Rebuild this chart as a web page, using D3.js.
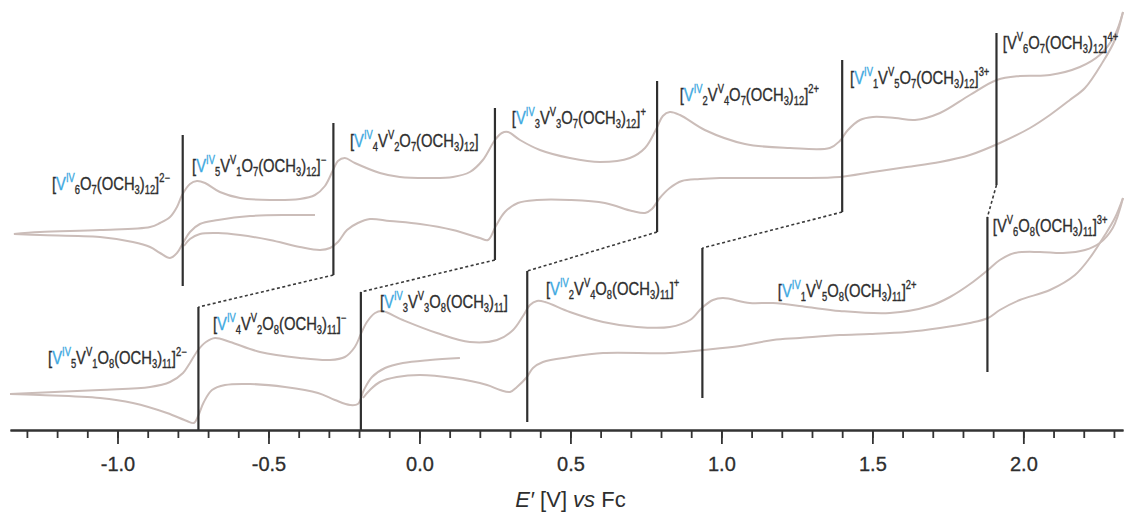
<!DOCTYPE html>
<html>
<head>
<meta charset="utf-8">
<script src="https://cdn.jsdelivr.net/npm/d3@7"></script>
<style>
  body { margin: 0; background: #fff; }
  svg { display: block; }
</style>
</head>
<body>
<div id="chart"></div>
<script>
// potentials in V vs Fc, currents in arbitrary units (traces offset vertically)

// upper CV: [V6O7(OCH3)12]2- series
const topStart = [[-0.346,215],[-0.429,215],[-0.561,214],[-0.667,210],[-0.727,206],[-0.760,198],[-0.783,187],[-0.803,177],[-0.826,172],[-0.859,177],[-0.892,183],[-0.949,188],[-1.058,193],[-1.257,195],[-1.343,196]];
const topForward = [[-1.343,196],[-1.257,198],[-1.058,200],[-0.892,203],[-0.859,207],[-0.826,213],[-0.803,223],[-0.786,235],[-0.760,246],[-0.737,249],[-0.710,247],[-0.661,238],[-0.594,232],[-0.495,230],[-0.396,231],[-0.346,235],[-0.313,244],[-0.286,260],[-0.270,269],[-0.247,272],[-0.214,267],[-0.131,257],[-0.065,253],[0.035,252],[0.111,253],[0.167,258],[0.210,270],[0.250,290],[0.273,297],[0.293,298],[0.333,290],[0.399,280],[0.498,272],[0.598,268],[0.697,272],[0.747,282],[0.786,302],[0.806,314],[0.829,318],[0.863,315],[0.945,300],[1.078,286],[1.227,282],[1.359,282],[1.392,289],[1.419,300],[1.459,310],[1.502,313],[1.575,312],[1.641,310],[1.724,317],[1.823,335],[1.912,350],[1.988,354],[2.088,355],[2.187,363],[2.253,375],[2.303,395],[2.330,418]];
const topReverse = [[2.330,418],[2.303,390],[2.263,368],[2.204,342],[2.154,330],[2.088,315],[2.022,302],[1.922,287],[1.823,275],[1.724,268],[1.614,263],[1.502,258],[1.392,253],[1.260,252],[1.128,252],[0.995,252],[0.929,251],[0.869,249],[0.829,242],[0.796,232],[0.770,221],[0.747,217],[0.704,219],[0.614,227],[0.498,230],[0.389,230],[0.326,227],[0.283,218],[0.253,204],[0.227,190],[0.200,192],[0.111,200],[0.002,206],[-0.098,209],[-0.164,211],[-0.204,207],[-0.240,200],[-0.270,188],[-0.296,182],[-0.329,180],[-0.396,183],[-0.495,190],[-0.594,195],[-0.667,197],[-0.727,196],[-0.760,191],[-0.780,184]];

// lower CV: [V6O8(OCH3)11] series
const botStart = [[0.134,72],[0.035,70],[-0.055,67],[-0.114,62],[-0.157,53],[-0.184,40],[-0.204,26],[-0.230,25],[-0.280,30],[-0.336,37],[-0.445,43],[-0.561,46],[-0.644,45],[-0.687,40],[-0.714,28],[-0.733,14],[-0.747,7],[-0.770,9],[-0.836,17],[-0.949,27],[-1.058,32],[-1.257,35],[-1.356,36]];
const botForward = [[-1.356,36],[-1.058,40],[-0.892,43],[-0.826,48],[-0.783,57],[-0.760,67],[-0.733,80],[-0.707,88],[-0.677,92],[-0.627,88],[-0.528,78],[-0.396,72],[-0.296,70],[-0.247,73],[-0.214,83],[-0.194,96],[-0.174,108],[-0.147,117],[-0.124,119],[-0.055,110],[0.058,97],[0.167,88],[0.257,90],[0.310,100],[0.343,114],[0.366,125],[0.389,129],[0.416,128],[0.498,118],[0.608,108],[0.720,103],[0.829,103],[0.896,110],[0.935,122],[0.972,130],[1.005,132],[1.094,127],[1.171,127],[1.283,123],[1.392,119],[1.558,117],[1.690,124],[1.757,133],[1.833,148],[1.883,160],[1.922,170],[1.971,177],[2.055,178],[2.131,177],[2.204,180],[2.253,187],[2.296,202],[2.330,232]];
const botReverse = [[2.330,232],[2.303,212],[2.270,195],[2.220,172],[2.171,155],[2.088,140],[1.988,130],[1.922,120],[1.883,112],[1.823,107],[1.724,102],[1.614,98],[1.492,96],[1.392,95],[1.260,92],[1.171,90],[1.061,84],[0.939,80],[0.829,77],[0.608,77],[0.498,73],[0.409,68],[0.376,62],[0.356,53],[0.323,43],[0.300,38],[0.267,40],[0.224,45],[0.111,52],[0.002,55],[-0.075,53],[-0.131,48],[-0.164,40],[-0.187,32]];

// half-wave potentials and the current span each marker covers
const topHalfWave = [-0.784, -0.285, 0.250, 0.787, 1.400, 1.911];
const topMarkerSpan = [[144,295],[155,307],[170,322],[198,349],[218,370],[245,397]];
const botHalfWave = [-0.732, -0.194, 0.357, 0.937, 1.881];
const botMarkerSpan = [[0,123],[0,138],[8,159],[32,182],[58,213]];

// species: [n V(IV), n V(V), charge]
const topSpecies = [[6,0,"2\u2212"],[5,1,"\u2212"],[4,2,""],[3,3,"+"],[2,4,"2+"],[1,5,"3+"],[0,6,"4+"]];
const botSpecies = [[5,1,"2\u2212"],[4,2,"\u2212"],[3,3,""],[2,4,"+"],[1,5,"2+"],[0,6,"3+"]];
const topLabelAt = [[-1.217,240],[-0.753,258],[-0.230,283],[0.306,306],[0.862,329],[1.426,346],[1.932,381]];
const botLabelAt = [[-1.230,66],[-0.684,100],[-0.131,122],[0.419,135],[1.187,133],[1.899,198]];

const majorTicks = [-1.0, -0.5, 0.0, 0.5, 1.0, 1.5, 2.0];
const tickLabels = ["-1.0", "-0.5", "0.0", "0.5", "1.0", "1.5", "2.0"];
const minorTicks = d3.range(-13, 24).map(d => d / 10);

////////////// setup //////////////
const width = 1124, height = 512;
const x = d3.scaleLinear().domain([-1.356, 2.33]).range([10, 1123]);
const y = d3.scaleLinear().domain([0, 430]).range([430, 0]);

const svg = d3.select("#chart").append("svg")
  .attr("width", width)
  .attr("height", height)
  .style("font-family", "'Liberation Sans', Arial, sans-serif");

svg.append("rect").attr("width", width).attr("height", height).attr("fill", "#fff");

const line = d3.line()
  .x(d => x(d[0]))
  .y(d => y(d[1]))
  .curve(d3.curveCatmullRom.alpha(0.5));

//draw the CV traces
const traces = [topStart, topForward, topReverse, botStart, botForward, botReverse];
svg.append("g").selectAll("path")
  .data(traces)
  .enter()
  .append("path")
  .attr("d", line)
  .attr("fill", "none")
  .attr("stroke", "#cbbdb9")
  .attr("stroke-width", 2)
  .attr("stroke-linejoin", "round");

//half-wave markers
const markers = svg.append("g")
  .attr("stroke", "#2f2f2f")
  .attr("stroke-width", 2.2);

markers.selectAll(".top")
  .data(topHalfWave)
  .enter()
  .append("line")
  .attr("x1", d => x(d)).attr("x2", d => x(d))
  .attr("y1", (d, i) => y(topMarkerSpan[i][0]))
  .attr("y2", (d, i) => y(topMarkerSpan[i][1]));

markers.selectAll(".bot")
  .data(botHalfWave)
  .enter()
  .append("line")
  .attr("x1", d => x(d)).attr("x2", d => x(d))
  .attr("y1", (d, i) => y(botMarkerSpan[i][0]))
  .attr("y2", (d, i) => y(botMarkerSpan[i][1]));

//dashed links between the two series
svg.append("g").selectAll("line")
  .data(botHalfWave)
  .enter()
  .append("line")
  .attr("x1", (d, i) => x(topHalfWave[i + 1]))
  .attr("y1", (d, i) => y(topMarkerSpan[i + 1][0]))
  .attr("x2", d => x(d))
  .attr("y2", (d, i) => y(botMarkerSpan[i][1]))
  .attr("stroke", "#3a3a3a")
  .attr("stroke-width", 1.6)
  .attr("stroke-dasharray", "3,2.5");

//formula labels
function formulaParts(sp, nO, nOMe) {
  const [iv, v, charge] = sp;
  const parts = [["[", "n"]];
  if (iv) parts.push(["V", "blue"], ["IV", "bsup"], [String(iv), "sub"]);
  if (v) parts.push(["V", "n"], ["V", "sup"], [String(v), "sub"]);
  parts.push(["O", "n"], [String(nO), "sub"], ["(OCH", "n"], ["3", "sub"], [")", "n"], [String(nOMe), "sub"], ["]", "n"]);
  if (charge) parts.push([charge, "sup"]);
  return parts;
}

function drawLabel(g, parts, pos) {
  const t = g.append("text")
    .attr("transform", `translate(${x(pos[0])},${y(pos[1])}) scale(0.78,1)`)
    .attr("font-size", 19)
    .attr("stroke-width", 0.35);
  let cur = 0;
  parts.forEach(([txt, kind]) => {
    const off = kind === "sup" || kind === "bsup" ? -8 : kind === "sub" ? 4 : 0;
    const small = off !== 0;
    const col = kind === "blue" || kind === "bsup" ? "#3ea9e1" : "#2e2e2e";
    t.append("tspan")
      .attr("dy", off - cur)
      .attr("font-size", small ? 12 : 19)
      .attr("fill", col)
      .attr("stroke", col)
      .text(txt);
    cur = off;
  });
}

const labels = svg.append("g");
topSpecies.forEach((sp, i) => drawLabel(labels, formulaParts(sp, 7, 12), topLabelAt[i]));
botSpecies.forEach((sp, i) => drawLabel(labels, formulaParts(sp, 8, 11), botLabelAt[i]));

//////////// axis ////////////
const axisY = y(0);
const minorAxis = d3.axisBottom(x)
  .tickValues(minorTicks)
  .tickSize(8)
  .tickSizeOuter(0)
  .tickFormat("");
const majorAxis = d3.axisBottom(x)
  .tickValues(majorTicks)
  .tickSize(14)
  .tickSizeOuter(0)
  .tickPadding(13)
  .tickFormat((d, i) => tickLabels[i]);

const gMinor = svg.append("g").attr("transform", `translate(0,${axisY})`).call(minorAxis);
const gMajor = svg.append("g").attr("transform", `translate(0,${axisY})`).call(majorAxis);

[gMinor, gMajor].forEach(g => {
  g.select(".domain").attr("stroke", "#333").attr("stroke-width", 2);
  g.selectAll(".tick line").attr("stroke", "#333").attr("stroke-width", 1.8);
});
gMajor.selectAll(".tick text")
  .attr("font-size", 20)
  .attr("font-family", "'Liberation Sans', Arial, sans-serif")
  .attr("fill", "#2e2e2e")
  .attr("stroke", "#2e2e2e")
  .attr("stroke-width", 0.3);

//axis title
const title = svg.append("text")
  .attr("x", x(0.5))
  .attr("y", 507)
  .attr("text-anchor", "middle")
  .attr("font-size", 22)
  .attr("fill", "#2e2e2e");
title.append("tspan").attr("font-style", "italic").text("E\u2032");
title.append("tspan").text(" [V] ");
title.append("tspan").attr("font-style", "italic").text("vs");
title.append("tspan").text(" Fc");
</script>
</body>
</html>
